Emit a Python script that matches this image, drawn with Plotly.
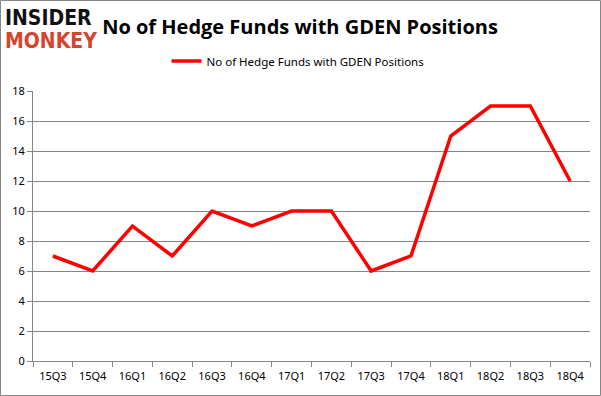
import plotly.graph_objects as go

quarters = ["15Q3", "15Q4", "16Q1", "16Q2", "16Q3", "16Q4", "17Q1", "17Q2",
            "17Q3", "17Q4", "18Q1", "18Q2", "18Q3", "18Q4"]
hedge_funds = [7, 6, 9, 7, 10, 9, 10, 10, 6, 7, 15, 17, 17, 12]
y_ticks = [0, 2, 4, 6, 8, 10, 12, 14, 16, 18]
series_name = "No of Hedge Funds with GDEN Positions"
title_text = "No of Hedge Funds with GDEN Positions"

W, H = 601, 396
L, R, T, B = 33, 11, 91, 35
pw, ph = W - L - R, H - T - B

def px_x(p):
    return (p - L) / pw

def px_y(p):
    return (H - B - p) / ph

fig = go.Figure()
fig.add_trace(go.Scatter(
    x=quarters, y=hedge_funds, mode="lines", name=series_name,
    line=dict(color="#ff0000", width=3.5),
))

fig.update_layout(
    width=W, height=H,
    margin=dict(l=L, r=R, t=T, b=B),
    paper_bgcolor="white", plot_bgcolor="white",
    font=dict(family="Noto Sans", color="#000000", size=11),
    title=dict(text="<b>" + title_text + "</b>", x=px_x(300), xanchor="center",
               xref="paper",
               y=1 - 27 / H, yanchor="middle", yref="container",
               font=dict(size=20, family="Open Sans", color="#000000")),
    showlegend=True,
    legend=dict(orientation="h", x=px_x(298), xanchor="center", y=px_y(61), yanchor="middle",
                font=dict(size=11.5), bgcolor="rgba(0,0,0,0)"),
    xaxis=dict(type="category", showgrid=False, showline=True, linecolor="#868686",
               linewidth=1, ticks="outside", tickson="boundaries", ticklen=5,
               tickcolor="#868686", tickfont=dict(size=11), range=[-0.5, 13.5],
               automargin=False, ticklabelstandoff=5),
    yaxis=dict(range=[0, 18], tickvals=y_ticks, showgrid=True, gridcolor="#868686",
               gridwidth=1, showline=True, linecolor="#868686", linewidth=1,
               ticks="outside", ticklen=5, tickcolor="#868686", zeroline=False,
               tickfont=dict(size=11), automargin=False),
    shapes=[dict(type="rect", xref="paper", yref="paper",
                 x0=px_x(0.5), x1=px_x(600.5), y0=px_y(395.5), y1=px_y(0.5),
                 line=dict(color="#868686", width=1), fillcolor="rgba(0,0,0,0)", layer="below")],
    annotations=[
        dict(text="<b>INSIDER</b>", xref="paper", yref="paper", x=px_x(4), y=px_y(18),
             xanchor="left", yanchor="middle", showarrow=False,
             font=dict(family="DejaVu Sans Condensed", size=21, color="#111111"),
             borderpad=0),
        dict(text="<b>MONKEY</b>", xref="paper", yref="paper", x=px_x(4), y=px_y(41),
             xanchor="left", yanchor="middle", showarrow=False,
             font=dict(family="DejaVu Sans Condensed", size=21, color="#d5442d"),
             borderpad=0),
    ],
)

fig.write_html("out.html", post_script="document.body.style.margin='0';",
               config={"displayModeBar": False})
